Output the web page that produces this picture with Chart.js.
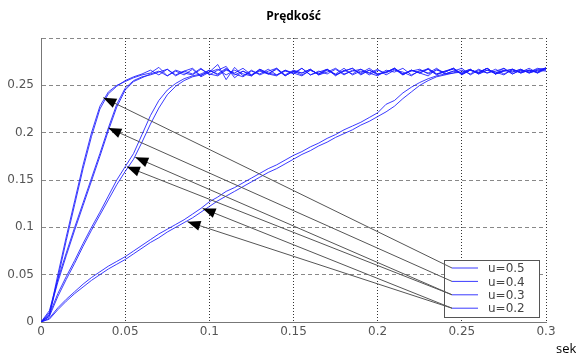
<!DOCTYPE html>
<html>
<head>
<meta charset="utf-8">
<script src="https://cdn.jsdelivr.net/npm/chart.js@4.4.1/dist/chart.umd.min.js"></script>
<style>
  html, body { margin: 0; padding: 0; background: #fff; }
  #wrap { width: 576px; height: 358px; }
</style>
</head>
<body>
<div id="wrap"><canvas id="chart"></canvas></div>
<script>
// Prędkość – odpowiedź na skok dla u = 0.5 .. 0.2
const title = "Prędkość";
const xUnit = "sek";
const legendLabels = ["u=0.5", "u=0.4", "u=0.3", "u=0.2"];

const t = [0, 0.005, 0.01, 0.015, 0.02, 0.025, 0.03, 0.035, 0.04, 0.045,
  0.05, 0.055, 0.06, 0.065, 0.07, 0.075, 0.08, 0.085, 0.09, 0.095,
  0.1, 0.105, 0.11, 0.115, 0.12, 0.125, 0.13, 0.135, 0.14, 0.145,
  0.15, 0.155, 0.16, 0.165, 0.17, 0.175, 0.18, 0.185, 0.19, 0.195,
  0.2, 0.205, 0.21, 0.215, 0.22, 0.225, 0.23, 0.235, 0.24, 0.245,
  0.25, 0.255, 0.26, 0.265, 0.27, 0.275, 0.28, 0.285, 0.29, 0.295, 0.3];

const u05a = [0, 0.008, 0.050, 0.090, 0.128, 0.166, 0.200, 0.228, 0.243, 0.250,
  0.254, 0.258, 0.261, 0.263, 0.269, 0.260, 0.265, 0.261, 0.267, 0.259,
  0.264, 0.272, 0.256, 0.269, 0.260, 0.266, 0.261, 0.265, 0.268, 0.260,
  0.265, 0.261, 0.266, 0.262, 0.267, 0.261, 0.265, 0.268, 0.261, 0.266,
  0.262, 0.264, 0.268, 0.261, 0.266, 0.263, 0.260, 0.267, 0.262, 0.265,
  0.268, 0.261, 0.266, 0.263, 0.267, 0.262, 0.266, 0.264, 0.268, 0.263, 0.269];
const u05b = [0, 0.006, 0.046, 0.086, 0.124, 0.162, 0.196, 0.225, 0.241, 0.249,
  0.255, 0.259, 0.262, 0.266, 0.261, 0.267, 0.260, 0.265, 0.262, 0.268,
  0.261, 0.266, 0.270, 0.258, 0.265, 0.261, 0.267, 0.262, 0.260, 0.266,
  0.263, 0.268, 0.261, 0.264, 0.267, 0.260, 0.266, 0.262, 0.267, 0.263,
  0.260, 0.266, 0.264, 0.268, 0.261, 0.265, 0.267, 0.262, 0.264, 0.268,
  0.262, 0.266, 0.263, 0.268, 0.262, 0.265, 0.267, 0.263, 0.266, 0.264, 0.268];
const u04a = [0, 0.012, 0.045, 0.073, 0.100, 0.126, 0.152, 0.178, 0.205, 0.230,
  0.247, 0.255, 0.259, 0.261, 0.264, 0.267, 0.261, 0.265, 0.268, 0.260,
  0.266, 0.262, 0.268, 0.261, 0.265, 0.260, 0.267, 0.263, 0.261, 0.266,
  0.262, 0.268, 0.261, 0.265, 0.262, 0.267, 0.261, 0.266, 0.263, 0.268,
  0.262, 0.264, 0.267, 0.261, 0.266, 0.263, 0.268, 0.262, 0.265, 0.267,
  0.262, 0.266, 0.264, 0.268, 0.262, 0.266, 0.264, 0.267, 0.263, 0.266, 0.265];
const u04b = [0, 0.010, 0.042, 0.070, 0.097, 0.123, 0.149, 0.175, 0.202, 0.227,
  0.245, 0.254, 0.258, 0.262, 0.265, 0.260, 0.266, 0.263, 0.261, 0.267,
  0.262, 0.260, 0.266, 0.263, 0.268, 0.261, 0.265, 0.262, 0.267, 0.260,
  0.265, 0.263, 0.267, 0.261, 0.266, 0.262, 0.268, 0.261, 0.265, 0.263,
  0.267, 0.261, 0.266, 0.264, 0.260, 0.266, 0.263, 0.268, 0.262, 0.265,
  0.263, 0.267, 0.262, 0.266, 0.264, 0.261, 0.267, 0.264, 0.266, 0.263, 0.267];
const u03a = [0, 0.008, 0.030, 0.048, 0.065, 0.083, 0.100, 0.116, 0.133, 0.150,
  0.164, 0.178, 0.198, 0.218, 0.234, 0.245, 0.252, 0.257, 0.260, 0.262,
  0.266, 0.261, 0.267, 0.262, 0.259, 0.265, 0.262, 0.267, 0.261, 0.265,
  0.263, 0.260, 0.266, 0.262, 0.267, 0.261, 0.265, 0.268, 0.262, 0.266,
  0.261, 0.264, 0.268, 0.262, 0.266, 0.263, 0.267, 0.261, 0.265, 0.268,
  0.262, 0.266, 0.263, 0.268, 0.262, 0.265, 0.267, 0.263, 0.266, 0.264, 0.268];
const u03b = [0, 0.006, 0.027, 0.045, 0.062, 0.080, 0.097, 0.113, 0.129, 0.145,
  0.159, 0.172, 0.190, 0.209, 0.226, 0.240, 0.249, 0.255, 0.259, 0.261,
  0.264, 0.267, 0.261, 0.266, 0.262, 0.260, 0.266, 0.262, 0.268, 0.261,
  0.266, 0.263, 0.267, 0.261, 0.264, 0.268, 0.262, 0.265, 0.267, 0.261,
  0.266, 0.263, 0.268, 0.262, 0.265, 0.267, 0.262, 0.266, 0.264, 0.268,
  0.261, 0.266, 0.263, 0.268, 0.262, 0.266, 0.264, 0.267, 0.263, 0.266, 0.268];
const u02a = [0, 0.004, 0.015, 0.024, 0.032, 0.040, 0.047, 0.053, 0.059, 0.064,
  0.069, 0.075, 0.081, 0.087, 0.093, 0.098, 0.103, 0.108, 0.114, 0.120,
  0.127, 0.132, 0.138, 0.142, 0.147, 0.152, 0.157, 0.162, 0.166, 0.171,
  0.176, 0.180, 0.185, 0.189, 0.194, 0.198, 0.203, 0.207, 0.211, 0.216,
  0.221, 0.230, 0.234, 0.242, 0.248, 0.253, 0.257, 0.260, 0.262, 0.263,
  0.266, 0.262, 0.267, 0.263, 0.265, 0.268, 0.262, 0.266, 0.264, 0.268, 0.266];
const u02b = [0, 0.003, 0.013, 0.022, 0.030, 0.037, 0.044, 0.050, 0.056, 0.061,
  0.066, 0.072, 0.078, 0.084, 0.089, 0.095, 0.100, 0.105, 0.110, 0.116,
  0.122, 0.128, 0.133, 0.138, 0.143, 0.148, 0.153, 0.158, 0.162, 0.167,
  0.172, 0.177, 0.181, 0.186, 0.190, 0.195, 0.199, 0.203, 0.208, 0.212,
  0.217, 0.222, 0.228, 0.236, 0.243, 0.250, 0.255, 0.259, 0.261, 0.263,
  0.264, 0.267, 0.262, 0.266, 0.263, 0.268, 0.262, 0.266, 0.264, 0.267, 0.268];

// strzałki: punkt na krzywej -> wpis legendy
const arrowX = [0.037, 0.040, 0.056, 0.051, 0.096, 0.087];
const arrowY = [0.237, 0.205, 0.174, 0.164, 0.120, 0.106];
const arrowTo = [0, 1, 2, 2, 3, 3];

const BLUE = "rgba(25,25,255,0.85)";
const series = [u05a, u05b, u04a, u04b, u03a, u03b, u02a, u02b];

const overlay = {
  id: "overlay",
  afterDatasetsDraw(chart) {
    const { ctx, chartArea: a, scales: { x, y } } = chart;
    ctx.save();
    // tytuł
    ctx.fillStyle = "#000";
    ctx.font = 'bold 12px "Open Sans", sans-serif';
    ctx.textAlign = "center";
    ctx.textBaseline = "middle";
    ctx.fillText(title, (a.left + a.right) / 2, 17);
    // jednostka osi x
    ctx.font = '13px "Open Sans", sans-serif';
    ctx.textAlign = "left";
    ctx.fillText(xUnit, a.right + 10, a.bottom + 27);

    // ramka legendy
    const bx = a.right - 102, by = a.bottom - 62, bw = 95, bh = 57;
    const rowY = (i) => by + 8 + i * 13.4;
    ctx.fillStyle = "#fff";
    ctx.fillRect(bx, by, bw, bh);
    ctx.strokeStyle = "#555";
    ctx.lineWidth = 1;
    ctx.strokeRect(bx + 0.5, by + 0.5, bw, bh);

    // strzałki
    arrowX.forEach((vx, k) => {
      const px = x.getPixelForValue(vx), py = y.getPixelForValue(arrowY[k]);
      const ex = bx + 8, ey = rowY(arrowTo[k]);
      ctx.strokeStyle = "#555";
      ctx.beginPath(); ctx.moveTo(px, py); ctx.lineTo(ex, ey); ctx.stroke();
      const d = Math.hypot(ex - px, ey - py), ux = (ex - px) / d, uy = (ey - py) / d;
      const L = 13, W = 5;
      ctx.fillStyle = "#000";
      ctx.beginPath();
      ctx.moveTo(px, py);
      ctx.lineTo(px + L * ux - W * uy, py + L * uy + W * ux);
      ctx.lineTo(px + L * ux + W * uy, py + L * uy - W * ux);
      ctx.closePath(); ctx.fill();
    });

    // wpisy legendy
    ctx.font = '12px "DejaVu Sans", sans-serif';
    ctx.textBaseline = "middle";
    legendLabels.forEach((lab, i) => {
      const ly = rowY(i);
      ctx.strokeStyle = BLUE;
      ctx.beginPath(); ctx.moveTo(bx + 8, ly); ctx.lineTo(bx + 34, ly); ctx.stroke();
      ctx.fillStyle = "#444";
      ctx.fillText(lab, bx + 44, ly + 1);
    });
    ctx.restore();
  },
};

const fmt = (v) => String(Math.round(v * 100) / 100);

new Chart(document.getElementById("chart"), {
  type: "line",
  data: {
    datasets: series.map((s, i) => ({
      label: legendLabels[i >> 1],
      data: t.map((x, j) => ({ x, y: s[j] })),
      borderColor: BLUE, borderWidth: 1, pointRadius: 0, tension: 0,
    })),
  },
  options: {
    responsive: true, maintainAspectRatio: false, animation: false,
    layout: { padding: { left: 0, right: 30, top: 38, bottom: 0 } },
    plugins: { legend: { display: false }, title: { display: false }, tooltip: { enabled: false } },
    scales: {
      x: {
        type: "linear", min: 0, max: 0.3,
        ticks: { stepSize: 0.05, color: "#555", padding: 3, maxRotation: 0,
          font: { family: "DejaVu Sans", size: 12 }, callback: fmt },
        grid: { color: "#333", drawTicks: false },
        border: { color: "#777", dash: [1, 2] },
        afterFit: (s) => { s.height = 36; },
      },
      y: {
        min: 0, max: 0.3,
        ticks: { stepSize: 0.05, color: "#555", padding: 7,
          font: { family: "DejaVu Sans", size: 12 },
          callback: (v) => (v > 0.29 ? "" : fmt(v)) },
        grid: { color: "#888", drawTicks: false },
        border: { color: "#777", dash: [4, 3] },
        afterFit: (s) => { s.width = 41; },
      },
    },
  },
  plugins: [overlay],
});
</script>
</body>
</html>
